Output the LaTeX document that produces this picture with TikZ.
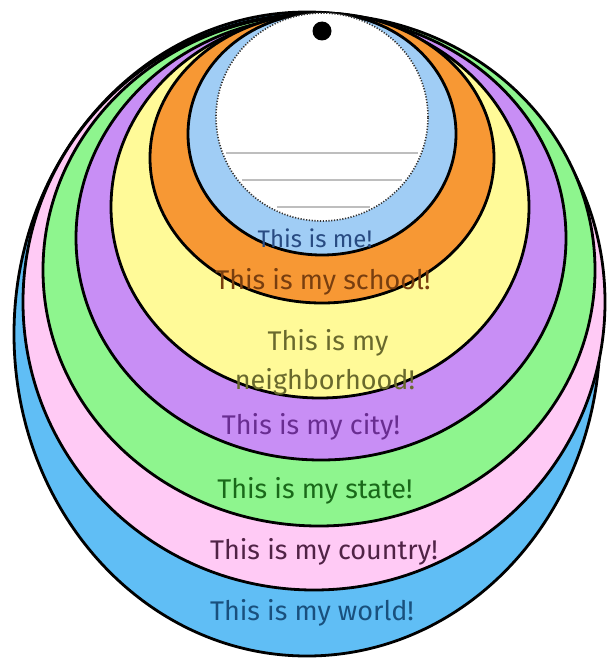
\documentclass[tikz,border=0pt]{standalone}
\usepackage{fontspec}
\setmainfont{Fira Sans}
\definecolor{cworld}{RGB}{96,190,245}
\definecolor{ccountry}{RGB}{255,202,245}
\definecolor{cstate}{RGB}{142,245,142}
\definecolor{ccity}{RGB}{200,142,245}
\definecolor{cneigh}{RGB}{255,250,152}
\definecolor{cschool}{RGB}{247,152,52}
\definecolor{cme}{RGB}{160,205,245}
\definecolor{tme}{RGB}{40,75,130}
\definecolor{tschool}{RGB}{120,62,15}
\definecolor{tneigh}{RGB}{105,105,45}
\definecolor{tcity}{RGB}{105,45,145}
\definecolor{tstate}{RGB}{25,105,25}
\definecolor{tcountry}{RGB}{80,35,70}
\definecolor{tworld}{RGB}{25,80,125}
\tikzset{
  ring/.style={draw=black, line width=2.8pt},
  label/.style={font=\fontsize{27}{31}\selectfont, inner sep=0pt, align=center},
  guide/.style={draw={rgb,255:red,190;green,190;blue,190}, line width=2.5pt}
}
\begin{document}
\begin{tikzpicture}[x=1pt,y=-1pt]
\useasboundingbox[fill=white] (0,0) rectangle (608,661);
% rings, outer to inner
\path[ring, fill=cworld]   (307,334) ellipse [x radius=293pt, y radius=322pt];
\path[ring, fill=ccountry] (314,302) ellipse [x radius=291pt, y radius=288pt];
\path[ring, fill=cstate]   (319,270) ellipse [x radius=276pt, y radius=256pt];
\path[ring, fill=ccity]    (321,238) ellipse [x radius=245pt, y radius=222pt];
\path[ring, fill=cneigh]   (320,207) ellipse [x radius=209pt, y radius=191pt];
\path[ring, fill=cschool]  (322,158) ellipse [x radius=172pt, y radius=145pt];
\path[ring, fill=cme]      (322,134) ellipse [x radius=134pt, y radius=121pt];
% inner white circle with dotted border
\path[fill=white, draw=black!80, line width=1.6pt, dash pattern=on 1.2pt off 1.6pt]
  (322,117) ellipse [x radius=106pt, y radius=104pt];
% writing lines
\coordinate (l1a) at (226,153); \coordinate (l1b) at (418,153);
\coordinate (l2a) at (242,180); \coordinate (l2b) at (402,180);
\coordinate (l3a) at (277,207); \coordinate (l3b) at (370,207);
\draw[guide] (l1a) -- (l1b);
\draw[guide] (l2a) -- (l2b);
\draw[guide] (l3a) -- (l3b);
% hole
\node[circle, fill=black, minimum size=19pt, inner sep=0pt] (hole) at (322,31) {};
% labels
\node[label, text=tme, font=\fontsize{24}{28}\selectfont] (me) at (315,238) {This is me!};
\node[label, text=tschool]  (school)  at (323,282) {This is my school!};
\node[label, text=tneigh]   (neigh1)  at (328,343) {This is my};
\node[label, text=tneigh]   (neigh2)  at (325,382) {neighborhood!};
\node[label, text=tcity]    (city)    at (311,427) {This is my city!};
\node[label, text=tstate]   (state)   at (315,491) {This is my state!};
\node[label, text=tcountry] (country) at (324,552) {This is my country!};
\node[label, text=tworld]   (world)   at (312,613) {This is my world!};
\end{tikzpicture}
\end{document}
